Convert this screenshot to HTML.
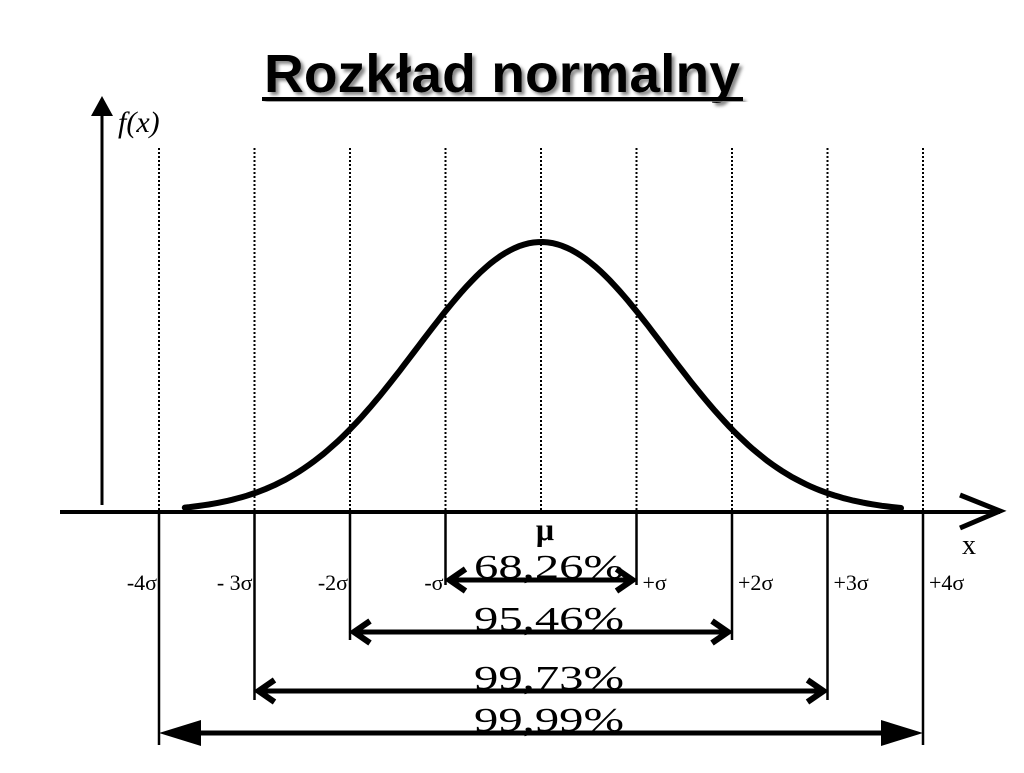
<!DOCTYPE html>
<html><head><meta charset="utf-8"><style>
body{margin:0;background:#fff;width:1024px;height:768px;overflow:hidden}
</style></head><body>
<svg width="1024" height="768">
<defs>
<filter id="sh" x="-5%" y="-10%" width="110%" height="130%"><feDropShadow dx="3" dy="3" stdDeviation="1.5" flood-color="#888"/></filter>
</defs>
<text x="264" y="92" textLength="476" lengthAdjust="spacingAndGlyphs" font-weight="bold" font-size="54" filter="url(#sh)" style="font-family:'Liberation Sans',sans-serif">Rozkład normalny</text>
<rect x="262" y="97" width="481" height="4" fill="#000" filter="url(#sh)"/>
<g id="g" style="font-family:'Liberation Serif',serif"></g>
</svg>
<script>
const sigmas=[-4,-3,-2,-1,0,1,2,3,4];
const tickLabels=["-4σ","- 3σ","-2σ","-σ","","+σ","+2σ","+3σ","+4σ"];
const intervalK=[1,2,3,4];
const intervalLabels=["68,26%","95,46%","99,73%","99,99%"];
const MU=541,SD=95.5,BASE=512,PEAK=270,CURVE_SPREAD=1.3;
const xs=s=>MU+s*SD;
const ys=d=>BASE-d*PEAK;
const NS="http://www.w3.org/2000/svg",g=document.getElementById('g');
function mk(t,a){const e=document.createElementNS(NS,t);for(const k in a)e.setAttribute(k,a[k]);g.appendChild(e);return e;}
let e=mk('line',{x1:102,y1:505,x2:102,y2:112,stroke:'#000','stroke-width':3});

e=mk('polygon',{points:'102,96 91,116 113,116',fill:'#000'});

e=mk('text',{x:118,y:132,'font-size':30,'font-style':'italic'});e.textContent='f(x)';

e=mk('line',{x1:60,y1:512,x2:1000,y2:512,stroke:'#000','stroke-width':4});

e=mk('polyline',{points:'960,495 1000,511 960,528',fill:'none',stroke:'#000','stroke-width':5});

e=mk('text',{x:962,y:554,'font-size':28});e.textContent='x';

const solidBottom={1:585,2:640,3:700,4:745};
sigmas.forEach((s,i)=>{
 const x=xs(s);
 let d=mk('line',{x1:x,y1:148,x2:x,y2:510,stroke:'#000','stroke-width':2,'stroke-dasharray':'2,2'});
 
 if(s!==0){
  let l=mk('line',{x1:x,y1:512,x2:x,y2:solidBottom[Math.abs(s)],stroke:'#000','stroke-width':2.5});
  
  let t=mk('text',{x:s<0?x-2:x+6,y:590,'font-size':22,'text-anchor':s<0?'end':'start'});t.textContent=tickLabels[i];
  
 }
});
e=mk('text',{x:xs(0)+4,y:540,'font-size':32,'font-weight':'bold','text-anchor':'middle'});e.textContent='μ';

let pts=[];for(let s=-3.73;s<=3.78;s+=0.05){const z=s/CURVE_SPREAD;pts.push(xs(s).toFixed(1)+','+ys(Math.exp(-z*z/2)).toFixed(1));}
e=mk('polyline',{points:pts.join(' '),fill:'none',stroke:'#000','stroke-width':6,'stroke-linecap':'round'});

const rowY={1:580,2:632,3:691,4:733};
intervalK.forEach((k,i)=>{
 const x1=xs(-k),x2=xs(k),y=rowY[k];
 let ln=mk('line',{x1:x1+8,y1:y,x2:x2-8,y2:y,stroke:'#000','stroke-width':5});
 
 if(k<4){
  let a=mk('polyline',{points:`${x1+20},${y-11} ${x1+4},${y} ${x1+20},${y+11}`,fill:'none',stroke:'#000','stroke-width':6});
  
  a=mk('polyline',{points:`${x2-20},${y-11} ${x2-4},${y} ${x2-20},${y+11}`,fill:'none',stroke:'#000','stroke-width':6});
  
 } else {
  let a=mk('polygon',{points:`${x1},${y} ${x1+42},${y-13} ${x1+42},${y+13}`,fill:'#000'});
  
  a=mk('polygon',{points:`${x2},${y} ${x2-42},${y-13} ${x2-42},${y+13}`,fill:'#000'});
  
 }
 let t=mk('text',{x:MU+8,y:y-2,'font-size':34,'text-anchor':'middle',textLength:150,lengthAdjust:'spacingAndGlyphs'});t.textContent=intervalLabels[i];
 
});
</script>
</body></html>
